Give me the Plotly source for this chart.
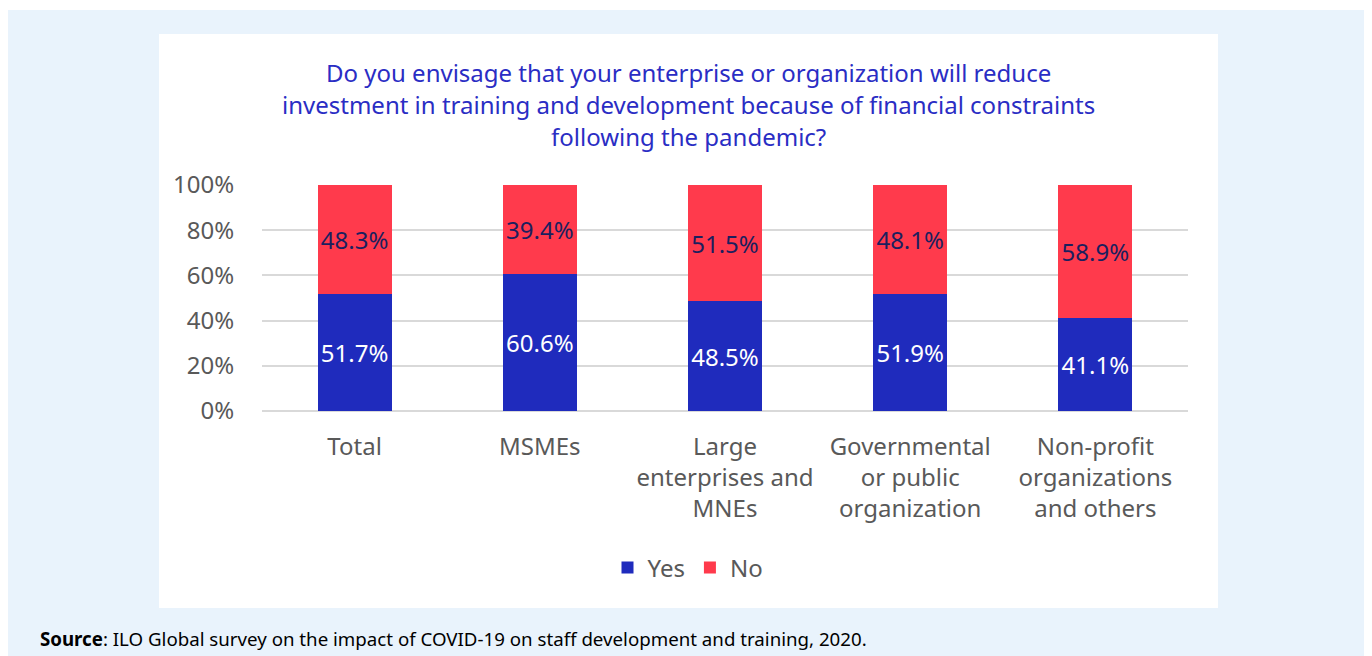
import plotly.graph_objects as go

categories = ["Total", "MSMEs", "Large<br>enterprises and<br>MNEs",
              "Governmental<br>or public<br>organization",
              "Non-profit<br>organizations<br>and others"]
yes_values = [51.7, 60.6, 48.5, 51.9, 41.1]
no_values = [48.3, 39.4, 51.5, 48.1, 58.9]
y_ticks = [0, 20, 40, 60, 80, 100]
y_tick_text = [f"{v}%" for v in y_ticks]

# the page body adds an 8px margin, so work in page pixels and shift
OFF = 8
W, H = 1372 - OFF, 656 - OFF
L, R, T, B = 262 - OFF, 1188 - OFF, 185 - OFF, 411 - OFF


def px(x):
    return (x - OFF - L) / (R - L)


def py(y):
    return (B - (y - OFF)) / (B - T)


FONT = "Noto Sans"

fig = go.Figure()
fig.add_trace(go.Bar(
    x=categories, y=yes_values, name="Yes",
    marker=dict(color="#1f2bbd", line=dict(width=0)),
    text=[f"{v:.1f}%" for v in yes_values],
    textposition="inside", insidetextanchor="middle",
    textfont=dict(family=FONT, size=24, color="white"),
))
fig.add_trace(go.Bar(
    x=categories, y=no_values, name="No",
    marker=dict(color="#ff3a4c", line=dict(width=0)),
    text=[f"{v:.1f}%" for v in no_values],
    textposition="inside", insidetextanchor="middle",
    textfont=dict(family=FONT, size=24, color="#1b1f5e"),
))

# background panels
fig.add_shape(type="rect", xref="paper", yref="paper",
              x0=px(8), x1=px(1372), y0=py(656), y1=py(10),
              fillcolor="#e9f3fc", line_width=0, layer="below")
fig.add_shape(type="rect", xref="paper", yref="paper",
              x0=px(159), x1=px(1218), y0=py(608), y1=py(34),
              fillcolor="white", line_width=0, layer="below")

title_lines = ["Do you envisage that your enterprise or organization will reduce",
               "investment in training and development because of financial constraints",
               "following the pandemic?"]
for i, line in enumerate(title_lines):
    fig.add_annotation(text=line, xref="paper", yref="paper",
                       x=px(688), y=py(72 + 32 * i), showarrow=False,
                       xanchor="center", yanchor="middle",
                       font=dict(family=FONT, size=24, color="#2a2dc4"))

fig.add_annotation(text="<b>Source</b>: ILO Global survey on the impact of COVID-19 on staff development and training, 2020.",
                   xref="paper", yref="paper", x=px(38), y=py(638),
                   showarrow=False, xanchor="left", yanchor="middle",
                   font=dict(family=FONT, size=18.7, color="black"))

fig.update_layout(
    width=W, height=H,
    margin=dict(l=L, r=W - R, t=T, b=H - B),
    barmode="stack", bargap=0.6,
    paper_bgcolor="white", plot_bgcolor="rgba(0,0,0,0)",
    font=dict(family=FONT, size=24, color="#595959"),
    showlegend=True,
    legend=dict(orientation="h", traceorder="normal", x=px(688), y=py(568),
                xanchor="center", yanchor="middle",
                font=dict(family=FONT, size=24, color="#595959"),
                bgcolor="rgba(0,0,0,0)", itemwidth=30),
    xaxis=dict(showgrid=False, ticks="outside", ticklen=14, tickcolor="rgba(0,0,0,0)",
               tickfont=dict(family=FONT, size=24, color="#595959"), fixedrange=True),
    yaxis=dict(range=[0, 100], tickmode="array", tickvals=y_ticks, ticktext=y_tick_text,
               showgrid=True, gridcolor="#d9d9d9", gridwidth=2,
               zeroline=True, zerolinecolor="#d9d9d9", zerolinewidth=2,
               ticks="outside", ticklen=22, tickcolor="rgba(0,0,0,0)",
               tickfont=dict(family=FONT, size=24, color="#595959")),
)

fig.write_html("out.html")
